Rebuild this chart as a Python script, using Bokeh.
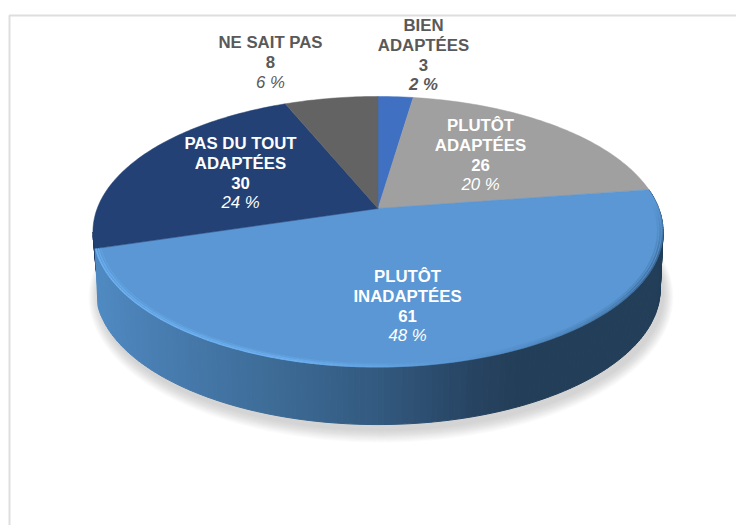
import numpy as np
from bokeh.embed import file_html
from bokeh.resources import INLINE
from bokeh.plotting import figure
from bokeh.models import Range1d, ColumnDataSource
from bokeh.core.properties import value

# ---- data ----
CATEGORIES = ["BIEN ADAPTÉES", "PLUTÔT ADAPTÉES", "PLUTÔT INADAPTÉES", "PAS DU TOUT ADAPTÉES", "NE SAIT PAS"]
VALUES = [3, 26, 61, 30, 8]
PERCENTS = ["2 %", "20 %", "48 %", "24 %", "6 %"]
COLORS = ["#4070C2", "#A0A0A0", "#5A97D4", "#234175", "#636363"]

# ---- labels (line breaks as in the picture, layout) ----
LABEL_LINES = [["BIEN", "ADAPTÉES"], ["PLUTÔT", "ADAPTÉES"], ["PLUTÔT", "INADAPTÉES"],
               ["PAS DU TOUT", "ADAPTÉES"], ["NE SAIT PAS"]]
LABEL_X = [423, 480, 407, 240, 270]
LABEL_TOP = [25, 125, 276, 143, 42]
LABEL_COLOR = ["#595959", "#FFFFFF", "#FFFFFF", "#FFFFFF", "#595959"]
PCT_BOLD = [True, False, False, False, False]
LINE_STEP = 19.8

# ---- perspective of the pie, pixels ----
CX, CY = 377.5, 208.0
A, B, K = 280.8, 131.3, 0.172
DEPTH = 57.5
LOWER_SCALE = 0.99


def proj(theta, r=1.0):
    d = 1 + K * r * np.cos(theta)
    return CX + A * r * np.sin(theta) / d, CY - B * r * np.cos(theta) / d


def lower(theta, depth=DEPTH):
    x, y = proj(theta)
    return CX + (x - CX) * LOWER_SCALE, y + depth


def mix(c1, c2, t):
    a = [int(c1[i:i + 2], 16) for i in (1, 3, 5)]
    b = [int(c2[i:i + 2], 16) for i in (1, 3, 5)]
    return "#%02x%02x%02x" % tuple(int(round(u + (v - u) * t)) for u, v in zip(a, b))


SIDE_X = [96, 141, 281, 375, 470, 516, 700]
SIDE_C = ["#4F8AC2", "#4A80B5", "#3C6A94", "#335A80", "#274463", "#233E58", "#233E58"]


def side_color(x):
    x = float(np.clip(x, SIDE_X[0], SIDE_X[-1]))
    i = min(np.searchsorted(SIDE_X, x, side="right") - 1, len(SIDE_X) - 2)
    return mix(SIDE_C[i], SIDE_C[i + 1], (x - SIDE_X[i]) / (SIDE_X[i + 1] - SIDE_X[i]))


p = figure(width=736, height=525, x_range=Range1d(0, 736), y_range=Range1d(525, 0),
           output_backend="svg", toolbar_location=None, min_border=0,
           x_axis_location=None, y_axis_location=None, background_fill_color="white")
p.grid.visible = False
p.outline_line_color = None

# frame of the chart area
FRAME = "#DEDEDE"
p.line([9, 9, 736], [525, 15, 15], line_color=FRAME, line_width=2)

# soft shadow under the pie
for d in np.linspace(13, 1, 12):
    p.ellipse(x=CX + 3, y=CY + 86 + d * 0.2, width=2 * (282 + d * 0.8), height=2 * (135 + d * 0.8),
              fill_color="#8C8C8C", fill_alpha=0.035, line_color=None)

cum = np.cumsum([0] + VALUES) / sum(VALUES) * 2 * np.pi
starts, ends = cum[:-1], cum[1:]
BLUE, NAVY = 2, 3

# side wall: small visible part of the navy slice, then the blue slice over it
sx, sy, sc = [], [], []
th = np.linspace(ends[BLUE] - 0.05, ends[BLUE] + 0.12, 8)
for t0, t1 in zip(th[:-1], th[1:]):
    (x0, y0), (x1, y1) = proj(t0), proj(t1)
    (x2, y2), (x3, y3) = lower(t1, DEPTH * 0.55), lower(t0, DEPTH * 0.55)
    sx.append([x0, x1, x2, x3]); sy.append([y0, y1, y2, y3])
    sc.append("#1F3A66")
th = np.linspace(starts[BLUE], ends[BLUE], 170)
for t0, t1 in zip(th[:-1], th[1:]):
    (x0, y0), (x1, y1) = proj(t0), proj(t1)
    (x2, y2), (x3, y3) = lower(t1), lower(t0)
    sx.append([x0, x1, x2, x3]); sy.append([y0, y1, y2, y3])
    sc.append(side_color((x0 + x1) / 2))
p.patches(sx, sy, fill_color=sc, line_color=sc, line_width=1)

# top faces
for a0, a1, col in zip(starts, ends, COLORS):
    t = np.linspace(a0, a1, max(8, int((a1 - a0) * 60)))
    x, y = proj(t)
    p.patch(np.r_[CX, x], np.r_[CY, y], fill_color=col, line_color=col, line_width=0.5)

# bevel of the blue slice: light on the left/front, dark blur on the right
BEVEL_LIGHT, BEVEL_DARK = "#6FB2F2", "#2A4F74"
th = np.linspace(starts[BLUE], ends[BLUE], 200)
for r, w, strength in [(0.998, 1.6, 1.0), (0.990, 1.6, 0.7), (0.982, 1.6, 0.3)]:
    xs, ys, cs, al = [], [], [], []
    for t0, t1 in zip(th[:-1], th[1:]):
        x, y = proj(np.array([t0, t1]), r)
        xs.append(x); ys.append(y)
        tm = np.degrees((t0 + t1) / 2)
        if tm > 165:
            c = BEVEL_LIGHT
            a = strength * min(1.0, (tm - 165) / 30)
        else:
            c = BEVEL_DARK
            a = strength * np.clip((165 - tm) / 45, 0, 1) * np.clip((tm - 88) / 20, 0, 1) * 0.6
        cs.append(c); al.append(float(a))
    p.multi_line(xs, ys, line_color=cs, line_alpha=al, line_width=w)

# labels
tx, ty, tt, tc, ts = [], [], [], [], []
for i, lines in enumerate(LABEL_LINES):
    rows = lines + [str(VALUES[i]), PERCENTS[i]]
    for j, s in enumerate(rows):
        tx.append(LABEL_X[i]); ty.append(LABEL_TOP[i] + j * LINE_STEP)
        tt.append(s); tc.append(LABEL_COLOR[i])
        if j == len(rows) - 1:
            ts.append("bold italic" if PCT_BOLD[i] else "italic")
        else:
            ts.append("bold")
src = ColumnDataSource(dict(x=tx, y=ty, t=tt, c=tc, s=ts))
p.text("x", "y", text="t", source=src, text_color="c", text_font_style="s",
       text_font=value("Liberation Sans"), text_font_size="16.8px",
       text_align="center", text_baseline="middle")

open("out.html", "w").write(file_html(p, INLINE))
